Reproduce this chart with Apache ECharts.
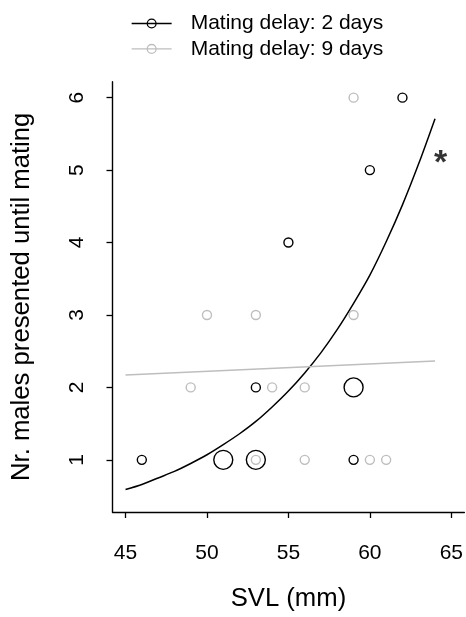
<!DOCTYPE html>
<html>
<head>
<meta charset="utf-8">
<script src="https://cdn.jsdelivr.net/npm/echarts@6/dist/echarts.min.js"></script>
<style>
html,body{margin:0;padding:0;background:#fff;}
#chart{width:466px;height:617px;}
</style>
</head>
<body>
<div id="chart"></div>
<script>
// ---- data ----
const xTicks = [45, 50, 55, 60, 65];
const yTicks = [1, 2, 3, 4, 5, 6];

// Mating delay: 2 days (black)
const svl2   = [46, 51, 53, 53, 59, 59, 55, 60, 62];
const males2 = [1, 1, 1, 2, 2, 1, 4, 5, 6];
const count2 = [1, 2, 2, 1, 2, 1, 1, 1, 1];

// Mating delay: 9 days (grey)
const svl9   = [59, 50, 53, 59, 49, 54, 56, 53, 56, 60, 61];
const males9 = [6, 3, 3, 3, 2, 2, 2, 1, 1, 1, 1];
const count9 = [1, 1, 1, 1, 1, 1, 1, 1, 1, 1, 1];

// fitted curves
const fitX2 = [45, 46, 47, 48, 49, 50, 51, 52, 53, 54, 55, 56, 57, 58, 59, 60, 61, 62, 63, 64];
const fitY2 = [0.59, 0.66, 0.75, 0.84, 0.95, 1.07, 1.21, 1.36, 1.53, 1.73, 1.95, 2.20, 2.48, 2.80, 3.16, 3.55, 4.01, 4.52, 5.09, 5.71];
const fitX9 = [45, 64];
const fitY9 = [2.17, 2.365];

const seriesNames = ['Mating delay: 2 days', 'Mating delay: 9 days'];
const sigMark = [[64.35, 5.2]];

// ---- build ----
const FONT = 'Liberation Sans, Arial, Helvetica, sans-serif';
const BLACK = '#000000';
const GREY = '#bebebe';

function zip3(a, b, c) { return a.map((v, i) => [v, b[i], c[i]]); }
function zip2(a, b) { return a.map((v, i) => [v, b[i]]); }
function sizeOf(v) { return v[2] >= 2 ? 19 : 9; }

const chart = echarts.init(document.getElementById('chart'), null, {renderer: 'canvas'});

const option = {
  animation: false,
  backgroundColor: '#ffffff',
  textStyle: {fontFamily: FONT},
  grid: {left: 112.5, right: 0, top: 81.7, bottom: 103, containLabel: false},
  legend: {
    orient: 'vertical',
    left: 131, top: 13,
    padding: 0,
    itemWidth: 40, itemHeight: 11, itemGap: 4.4,
    selectedMode: false,
    formatter: name => '{s|}' + name,
    textStyle: {fontFamily: FONT, fontSize: 21, lineHeight: 21, color: BLACK,
      rich: {s: {width: 14}}},
    data: [
      {name: seriesNames[0],
       itemStyle: {color: 'rgba(0,0,0,0)', borderColor: BLACK, borderWidth: 1.3},
       lineStyle: {color: BLACK, width: 1.3}},
      {name: seriesNames[1],
       itemStyle: {color: 'rgba(0,0,0,0)', borderColor: GREY, borderWidth: 1.3},
       lineStyle: {color: GREY, width: 1.3}}
    ]
  },
  xAxis: {
    type: 'value', min: 44.2, max: 65.8,
    name: 'SVL (mm)', nameLocation: 'middle', nameGap: 74,
    nameTextStyle: {fontFamily: FONT, fontSize: 25.7, color: BLACK},
    axisLine: {show: true, onZero: false, lineStyle: {color: BLACK, width: 1.4}},
    axisTick: {show: true, length: 6, inside: false, customValues: xTicks, lineStyle: {color: BLACK, width: 1.3}},
    axisLabel: {show: true, customValues: xTicks, margin: 31, fontFamily: FONT, fontSize: 21, color: BLACK},
    splitLine: {show: false}
  },
  yAxis: {
    type: 'value', min: 0.28, max: 6.22,
    name: 'Nr. males presented until mating', nameLocation: 'middle', nameGap: 78, nameRotate: 90,
    nameTextStyle: {fontFamily: FONT, fontSize: 25.7, color: BLACK},
    axisLine: {show: true, onZero: false, lineStyle: {color: BLACK, width: 1.4}},
    axisTick: {show: true, length: 6, inside: false, customValues: yTicks, lineStyle: {color: BLACK, width: 1.3}},
    axisLabel: {show: true, customValues: yTicks, rotate: 90, margin: 25, fontFamily: FONT, fontSize: 21, color: BLACK},
    splitLine: {show: false}
  },
  series: [
    {
      name: seriesNames[0], type: 'line', data: zip2(fitX2, fitY2),
      smooth: 0.3, symbol: 'circle', showSymbol: false, silent: true,
      lineStyle: {color: BLACK, width: 1.5}, itemStyle: {color: BLACK}, z: 2
    },
    {
      name: seriesNames[1], type: 'line', data: zip2(fitX9, fitY9),
      symbol: 'circle', showSymbol: false, silent: true,
      lineStyle: {color: GREY, width: 1.5}, itemStyle: {color: GREY}, z: 2
    },
    {
      name: seriesNames[1], type: 'scatter', data: zip3(svl9, males9, count9),
      symbol: 'circle', symbolSize: sizeOf,
      itemStyle: {color: 'rgba(0,0,0,0)', borderColor: GREY, borderWidth: 1.4, opacity: 1}, z: 3
    },
    {
      name: seriesNames[0], type: 'scatter', data: zip3(svl2, males2, count2),
      symbol: 'circle', symbolSize: sizeOf,
      itemStyle: {color: 'rgba(0,0,0,0)', borderColor: BLACK, borderWidth: 1.4, opacity: 1}, z: 4
    },
    {
      name: 'significance', type: 'scatter', data: sigMark, symbol: 'circle', symbolSize: 0, silent: true,
      itemStyle: {color: 'rgba(0,0,0,0)'}, z: 5,
      label: {show: true, position: 'inside', formatter: '*', fontFamily: FONT, fontSize: 34, fontWeight: 'bold',
        color: BLACK, textBorderWidth: 0, textBorderColor: 'transparent', offset: [0, 8]}
    }
  ]
};
chart.setOption(option);
</script>
</body>
</html>
